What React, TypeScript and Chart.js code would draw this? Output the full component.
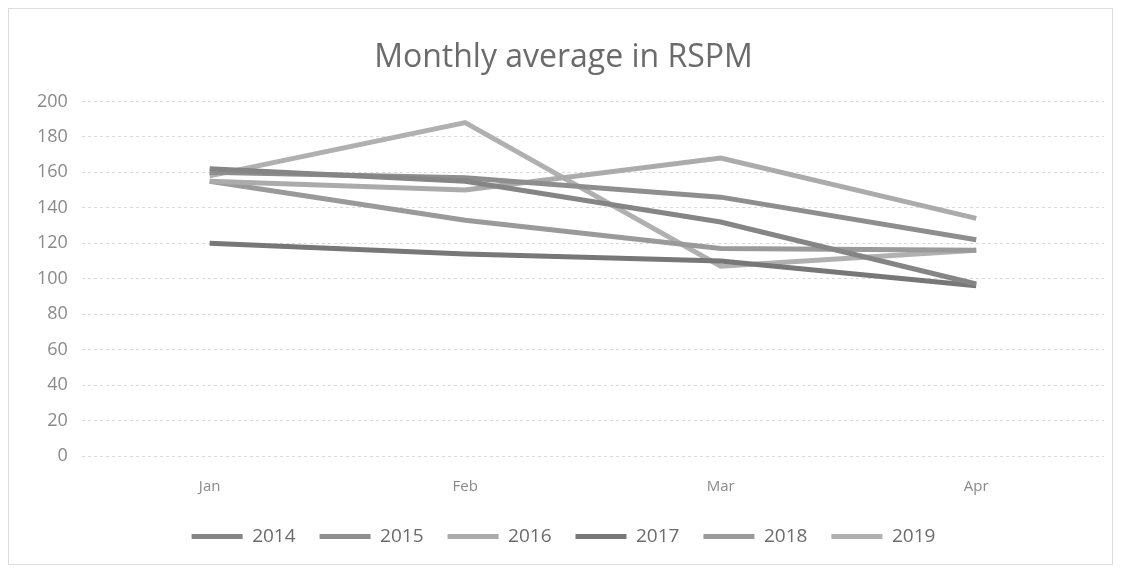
import React, { useEffect, useRef } from "react";
import { Chart, registerables } from "chart.js";

Chart.register(...registerables);

const months = ["Jan", "Feb", "Mar", "Apr"];
const years = ["2014", "2015", "2016", "2017", "2018", "2019"];
const v2014 = [162, 155, 132, 97];
const v2015 = [160, 157, 146, 122];
const v2016 = [155, 150, 168, 134];
const v2017 = [120, 114, 110, 96];
const v2018 = [155, 133, 117, 116];
const v2019 = [158, 188, 107, 116];
const seriesValues = [v2014, v2015, v2016, v2017, v2018, v2019];
const seriesColors = ["#858585", "#8e8e8e", "#ababab", "#777777", "#9a9a9a", "#b0b0b0"];

const FONT = "'Open Sans', 'Noto Sans', sans-serif";

export default function App() {
  const ref = useRef<HTMLCanvasElement | null>(null);
  useEffect(() => {
    if (!ref.current) return;
    const chart = new Chart(ref.current, {
      type: "line",
      data: {
        labels: months,
        datasets: years.map((y, i) => ({
          label: y,
          data: seriesValues[i],
          borderColor: seriesColors[i],
          backgroundColor: seriesColors[i],
          borderWidth: 5,
          pointRadius: 0,
          tension: 0,
          fill: false,
        })),
      },
      options: {
        animation: false,
        responsive: false,
        maintainAspectRatio: false,
        layout: { padding: { left: 14, right: 8, top: 0, bottom: 8 } },
        plugins: {
          title: {
            display: true,
            text: "Monthly average in RSPM",
            color: "#6b6b6b",
            font: { family: FONT, size: 32, weight: "normal" },
            padding: { top: 30, bottom: 24 },
          },
          legend: {
            position: "bottom",
            labels: {
              usePointStyle: true,
              pointStyle: "line",
              pointStyleWidth: 51,
              color: "#6b6b6b",
              font: { family: FONT, size: 19 },
              padding: 24,
            },
          },
          tooltip: { enabled: false },
        },
        scales: {
          x: {
            offset: true,
            grid: { display: false },
            border: { display: false },
            ticks: { color: "#8a8a8a", font: { family: FONT, size: 15 }, padding: 14 },
            afterFit: (s: any) => {
              s.height -= 7;
            },
          },
          y: {
            min: 0,
            max: 200,
            ticks: { stepSize: 20, color: "#8a8a8a", font: { family: FONT, size: 18 }, padding: 14 },
            grid: { color: "#dadada", lineWidth: 1, drawTicks: false },
            border: { display: false, dash: [3, 3] },
          },
        },
      },
    });
    return () => chart.destroy();
  }, []);
  return (
    <div style={{ width: 1105, height: 557, border: "1px solid #dcdcdc", boxSizing: "border-box", background: "#fff" }}>
      <canvas ref={ref} width={1103} height={555} style={{ display: "block" }} />
    </div>
  );
}
